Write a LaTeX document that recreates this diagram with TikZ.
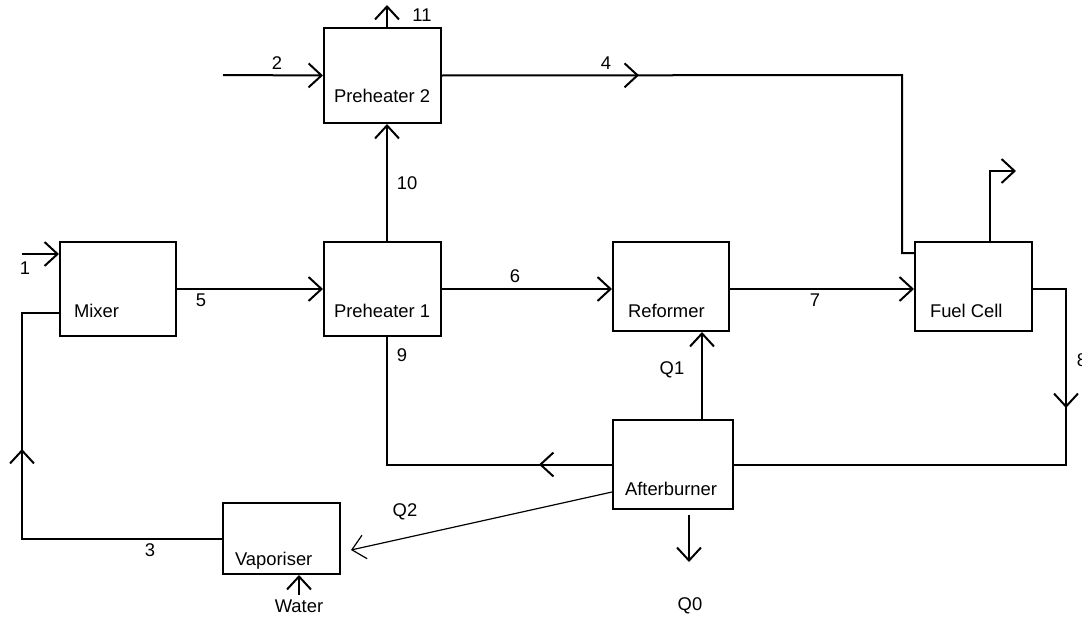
\documentclass[tikz,border=0pt]{standalone}
\usepackage{fontspec}
\setmainfont{Liberation Sans}
\usetikzlibrary{arrows.meta,decorations.markings}
\begin{document}
\begin{tikzpicture}[x=0.5pt, y=-0.5pt, line width=1pt,
    every node/.style={font=\fontsize{9.2}{11}\selectfont},
    unit/.style={draw, rectangle, inner sep=0pt},
    >={Straight Barb[length=6.5pt,width=12pt]},
    flow/.style={->},
    midarrow/.style={postaction={decorate},
      decoration={markings, mark=at position #1 with {\arrow{>}}}}]
  \useasboundingbox (0,0) rectangle (1082,621);
  % units: name / centre / size (pt) / text position / text
  \foreach \n/\cx/\cy/\w/\h/\tx/\ty/\t in {ph2/382.5/75.5/58.5/47.5/333/102/Preheater 2,
      mixer/118/289/58/47/73/317/Mixer,
      ph1/382.5/289/58.5/47/333/317/Preheater 1,
      reformer/671/286.5/58/44.5/627/317/Reformer,
      fuel/973.5/286.5/58.5/44.5/929/317/Fuel Cell,
      burner/673/464.5/60/44.5/624/495/Afterburner,
      vap/281.5/538.5/58.5/35.5/234/565/Vaporiser} {
    \node[unit, minimum width=\w pt, minimum height=\h pt] (\n) at (\cx,\cy) {};
    \node[anchor=base west, inner sep=0pt] (\n-txt) at (\tx,\ty) {\t};
  }
  % stream labels
  \foreach \n/\x/\y/\t in {1/25/268/1, 2/277/63/2, 11/422/15/11, 4/606/63/4,
      10/407/183/10, 5/201/300/5, 6/515/276/6, 7/815/300/7, 8/1082/360/8,
      9/402/355/9, q1/672/370/Q1, q2/405/512/Q2, q0/690/606/Q0, 3/150/550/3,
      water/299/606/Water}
    \node (lbl\n) at (\x,\y) {\t};
  % free ends and bends
  \coordinate (in1) at (22,254);
  \coordinate (in2) at (223,75);
  \coordinate (out11) at (387,5);
  \coordinate (bend4) at (902,75);
  \coordinate (fc4) at (915,253);
  \coordinate (exh) at (990,171);
  \coordinate (exhend) at (1016,171);
  \coordinate (bend8) at (1066,289);
  \coordinate (in3) at (22,313);
  \coordinate (q1) at (702,0);
  \coordinate (q0s) at (689,515);
  \coordinate (q0) at (689,562);
  \coordinate (water) at (299,595);
  % streams
  \draw[flow] (in1) -- (in1 -| mixer.west);
  \draw[flow] (in2) -- (ph2.west);
  \draw[flow] (out11 |- ph2.north) -- (out11);
  \draw[midarrow=98.5pt] (ph2.east) -- (bend4) |- (fc4);
  \draw[flow] (out11 |- ph1.north) -- (out11 |- ph2.south);
  \draw[flow] (mixer.east) -- (ph1.west);
  \draw[flow] (ph1.east) -- (ph1.east -| reformer.west);
  \draw[flow] (reformer.east |- ph1.east) -- (fuel.west |- ph1.east);
  \draw[flow] (exh |- fuel.north) -- (exh) -- (exhend);
  \draw[midarrow=76pt] (fuel.east |- ph1.east) -- (bend8) |- (burner.east);
  \draw[midarrow=36.5pt] (burner.west) -| (out11 |- ph1.south);
  \draw[flow] (q1 |- burner.north) -- (q1 |- reformer.south);
  \draw[flow] (q0s) -- (q0);
  \draw[flow, line width=0.6pt] ([yshift=-13.75pt]burner.west) -- ([xshift=5pt,yshift=-5.75pt]vap.east);
  \draw[flow] (water) -- (water |- vap.south);
  \draw[midarrow=144.75pt] (vap.west) -| (in3) -- (in3 -| mixer.west);
\end{tikzpicture}
\end{document}
